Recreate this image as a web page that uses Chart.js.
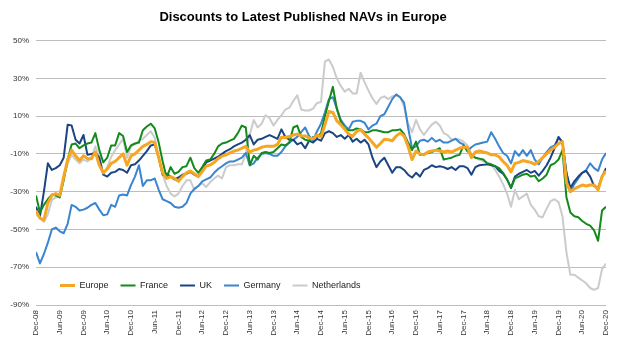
<!DOCTYPE html>
<html>
<head>
<meta charset="utf-8">
<title>Discounts to Latest Published NAVs in Europe</title>
<script src="https://cdn.jsdelivr.net/npm/chart.js@4.4.0/dist/chart.umd.min.js"></script>
<style>
  html, body { margin: 0; padding: 0; background: #fff; }
  #wrap { width: 628px; height: 343px; }
</style>
</head>
<body>
<div id="wrap"><canvas id="navChart" width="628" height="343"></canvas></div>
<script>
// monthly discounts (%), Dec-08 .. Dec-20
const europe = [
  -40, -44, -45, -36, -32, -31, -32, -22, -13, -8,
  -11, -13.5, -11, -12.5, -12.5, -9, -16, -20, -18, -15,
  -14, -12, -10, -16, -11, -10, -8, -6, -5,
  -3.5, -4, -12, -20, -23, -22, -23, -24.5, -22, -20, -19, -20.5, -22, -19.3, -16.5, -15.8, -14.5, -12.5, -11.2, -10.5, -9.5,
  -8.5, -8, -7, -6, -9, -8, -7.5, -6.5, -6, -6,
  -6, -5, -1.2, -1.3, -0.8, 0, 0.5, -0.5, -0.5, -1.5, -2, 0, -1, 5.5, 12.5, 12, 7.5, 5.5, 3, 0.5,
  -0.7, 1.9, 2.8, 0.5, -1.5, -4, -6.5, -4.5, -2.2, -2.5,
  -3, -0.5, 1, -0.5, -6, -13, -8.5, -10, -10.5, -9, -8.5, -8, -8.5, -9, -8.5, -9, -8, -7, -6.5, -6.5,
  -12, -9, -8.5, -9, -9.5, -10.5, -10.5, -11.5, -14, -16, -19.5, -15,
  -14.5, -13.5, -14, -14.5, -15.5, -14, -12, -10, -8, -6.5, -4.5, -3.5, -25, -30, -28.5, -27.5, -26.5, -27, -26.5, -26.5, -29, -22, -19
];
const france = [
  -32, -41, -37, -34, -31.5, -32, -33, -24, -13, -5, -4.5, -7, -5.5, -4.5, -4, 1, -8, -14.5, -12, -5.5, -5.5, 1, -0.5, -9, -5.5, -4.5, -4, 2.5, 4.5, 6, 3.5,
  -4, -14, -22.5, -17, -20.5, -19.5, -17, -16.5, -12, -17.5, -20, -17, -13.5, -13, -10, -6, -4.5, -4, -3, -2, 1, 5, 4, -16, -11, -13, -9.5, -9, -9.5, -9,
  -7, -5, -5.5, -4, 4, 5, -1, -2.5, -3, -1, -1, 1, 10, 18, 25.5, 14, 7, 3.5, 2.5, 2.5, 3.5, 3, 1.5, 1.5, 2.5, 2.5, 2, 1.5, 1.5, 2.5,
  2.5, 3, 0.5, -4, -8, -3.5, -10.5, -10, -9.5, -9, -8, -7, -13, -12.5, -12, -11, -10.5, -5.5, -8.5, -10.5, -12, -12.5, -13, -15, -15.5, -16.5, -17.5, -20, -23.5, -28, -23,
  -22, -21, -20.5, -22, -21.5, -24.5, -23, -21, -16, -15, -13, -8, -33, -41, -43, -43.5, -45.5, -47, -48, -50.5, -56, -40, -38
];
const uk = [
  -38, -43, -30, -15, -18.5, -17.5, -16, -12, 5.5, 5, -2.5, -4.5, 0, -10.5, -10, -9.5, -12, -21, -22, -20, -19.5, -18, -18.5, -20, -16, -15.5, -13.5, -11, -8.5, -5.5, -5,
  -12, -21, -20.5, -22, -23.5, -22.5, -21, -20.5, -19.5, -21, -22, -18, -14.5, -13.5, -12.5, -11.5, -10, -8.5, -7.5, -6, -5, -4, -2.5, 0, -5, -2.5, -2, -1, 0, -1,
  -2, 3, -1, -2.5, -2.5, -5, -4, -7, -3, -4, -2, -3, 1, 2, 1, -1, 0, -2, 0, -3.5, -2, -4, -2.5, -5, -12, -17, -14, -12, -16, -20,
  -17, -17, -18.5, -21, -22.5, -20, -22, -18.5, -17.5, -16, -17, -16.5, -17, -18, -17, -18.5, -16.5, -16.5, -17.5, -21, -17, -16, -15.8, -15.5, -16, -16.5, -19, -20.5, -23.5, -28,
  -22, -20.5, -19.5, -18.5, -20, -19, -21.5, -19, -16, -12, -7, -1, -4, -20, -28, -24.5, -22, -20, -19, -22, -27, -28, -22, -17.5
];
const germany = [
  -62, -68, -63, -57, -50, -49, -51, -52, -47, -37, -38, -40, -39.5, -38.5, -37, -36, -39.5, -42.5, -42, -37, -38, -32, -31.5, -32, -26.5, -22, -16, -27, -24, -24, -23,
  -29, -34, -35, -36, -38, -38.5, -38, -36, -31, -28.5, -27, -24.5, -23.5, -22.5, -20, -18, -16.5, -15, -14, -14, -13, -12, -9.5, -16, -15, -12, -10, -9.5, -10, -11,
  -11, -9, -6, -4, -2.5, -1, 1.5, 4, -0.5, -3, 2, 6, 12, 19, 20, 14, 8, 5, 3, 7, 7.5, 7.5, 6.5, 3, 5, 6, 10, 11, 15, 19,
  21.5, 20, 17, 4, -7, -6, -3, -2.5, -3.5, -1.5, -3.5, -2.5, -4, -4, -3, -2, -4, -5, -8.5, -6.5, -5, -4.5, -4, -3.5, 1.5, -2, -6, -9.5, -11, -15, -8.5,
  -11, -8, -11, -8, -13, -15.5, -12, -9, -6.5, -5.5, -1.5, -3.5, -20, -30, -26, -23, -20, -18.5, -15, -17.5, -19, -13, -9.5
];
const netherlands = [
  -42, -44, -46, -42, -34.5, -33, -33, -22, -15, -10.5, -13, -15, -13, -14, -12, -6, -12, -20.5, -17, -11.5, -8, -5, -2, -12, -6, -5, -3, -2, 0, 2, -1.5,
  -12, -21, -27, -31, -32.5, -31, -27, -24, -24, -29, -27, -25.5, -27.5, -25, -23, -21.5, -23, -17, -16, -16, -15.5, -15.5, -10, 0, 8, 4, 6, 10.5, 9, 5,
  8, 10.5, 13.5, 14.5, 18, 21, 13.5, 13, 13, 14, 17, 17.5, 39, 40, 36, 30, 26, 23, 24.5, 22,
  22, 33, 28, 23.5, 19.5, 16.5, 19.5, 20.5, 19, 20.5, 21, 20, 15, 6, 1.5, 8, 3, 0, 3, 5.5,
  7, 5, 1, 0, -2.5, -2, -2.5, -3.5, -5.5, -10, -12, -13, -14, -14.5, -15.5, -18.5, -22, -26, -31, -38, -29,
  -34, -32.5, -31, -37, -39.5, -43, -43.5, -39, -35, -34, -35.5, -43, -62, -74, -74, -75.5, -77, -78.5, -81, -82, -81, -71, -68
];

// axis labels, one every six months
const tickLabels = [
  'Dec-08', 'Jun-09', 'Dec-09', 'Jun-10', 'Dec-10', 'Jun-11', 'Dec-11', 'Jun-12', 'Dec-12',
  'Jun-13', 'Dec-13', 'Jun-14', 'Dec-14', 'Jun-15', 'Dec-15', 'Jun-16', 'Dec-16', 'Jun-17',
  'Dec-17', 'Jun-18', 'Dec-18', 'Jun-19', 'Dec-19', 'Jun-20', 'Dec-20'
];
const seriesNames = ['Europe', 'France', 'UK', 'Germany', 'Netherlands'];
const seriesColors = ['#f5a623', '#138a1b', '#1b4482', '#3a85cf', '#cbcbcb'];

const monthIndex = europe.map((_, i) => i);

Chart.defaults.font.family = "'Liberation Sans', Arial, sans-serif";

// legend sits inside the plot, in the gap above the -90% line
const legendInPlot = {
  id: 'legendInPlot',
  beforeLayout(chart) {
    const lg = chart.legend;
    if (lg && !lg._inPlot) {
      const fit = lg.fit;
      lg.fit = function () {
        fit.call(this);
        this._fullHeight = this.height;
        this.height = 0;
      };
      lg._inPlot = true;
    }
  },
  afterLayout(chart) {
    const lg = chart.legend;
    if (!lg) return;
    lg.left = 48;
    lg.right = 600;
    lg.top = 269;
    lg.bottom = lg.top + lg._fullHeight;
    lg.width = lg.right - lg.left;
    lg.height = lg._fullHeight;
  }
};

const allSeries = [europe, france, uk, germany, netherlands];

new Chart(document.getElementById('navChart'), {
  type: 'line',
  data: {
    labels: monthIndex,
    datasets: allSeries.map((vals, k) => ({
      label: seriesNames[k],
      data: vals,
      borderColor: seriesColors[k],
      backgroundColor: seriesColors[k],
      borderWidth: k === 0 ? 3 : 2,
      pointRadius: 0,
      tension: 0,
      borderJoinStyle: 'round'
    }))
  },
  options: {
    responsive: false,
    animation: false,
    devicePixelRatio: 1,
    layout: { padding: { left: 0, right: 22, top: 0, bottom: 0 } },
    scales: {
      x: {
        type: 'linear',
        min: 0,
        max: 144,
        grid: { display: false, drawTicks: false },
        border: { display: false },
        ticks: {
          stepSize: 6,
          autoSkip: false,
          minRotation: 90,
          maxRotation: 90,
          padding: 5,
          color: '#333',
          font: { size: 8 },
          callback: v => tickLabels[v / 6]
        },
        afterFit: s => { s.height = 38; }
      },
      y: {
        min: -90,
        max: 50,
        grid: { color: '#bdbdbd', lineWidth: 1, drawTicks: false },
        border: { display: false },
        ticks: {
          stepSize: 20,
          padding: 7,
          color: '#333',
          font: { size: 8 },
          callback: v => v + '%'
        },
        afterFit: s => { s.width = 36; }
      }
    },
    plugins: {
      title: {
        display: true,
        text: 'Discounts to Latest Published NAVs in Europe',
        color: '#000',
        font: { size: 13, weight: 'bold' },
        padding: { top: 10, bottom: 15 }
      },
      legend: {
        position: 'bottom',
        align: 'start',
        labels: {
          usePointStyle: true,
          pointStyle: 'line',
          pointStyleWidth: 15,
          padding: 12,
          color: '#222',
          font: { size: 9 }
        }
      },
      tooltip: { enabled: false }
    }
  },
  plugins: [legendInPlot]
});
</script>
</body>
</html>
